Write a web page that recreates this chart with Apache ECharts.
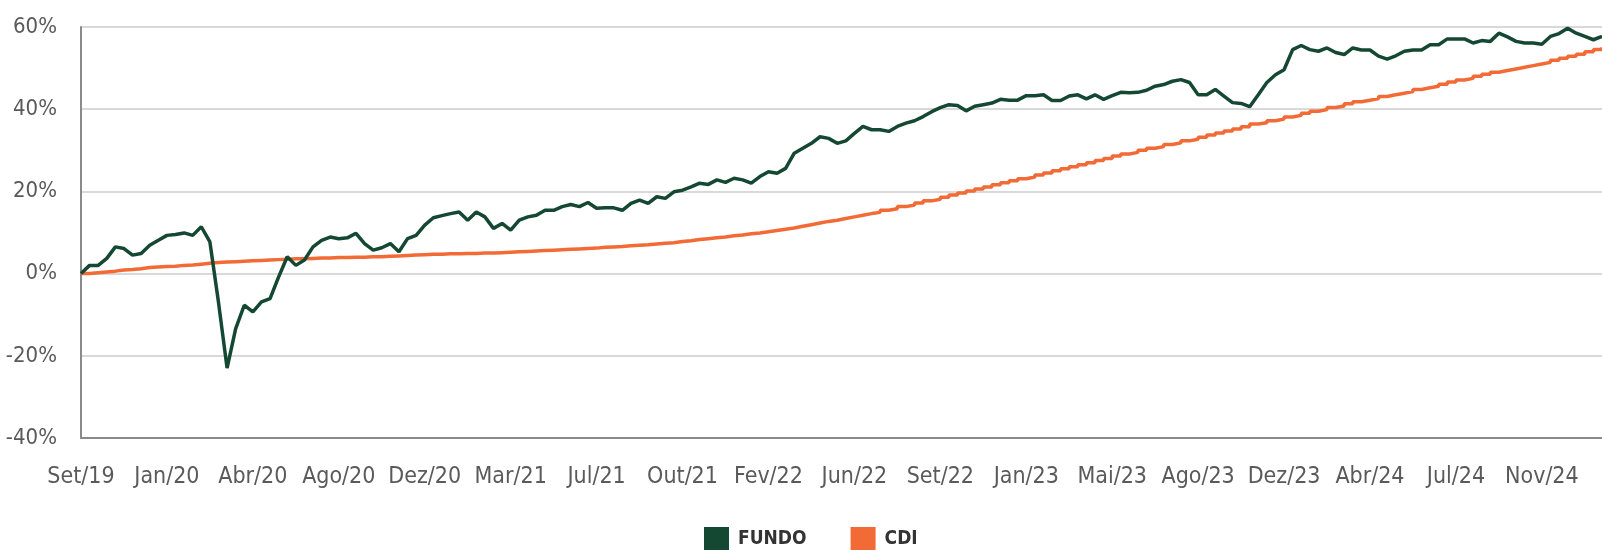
<!DOCTYPE html>
<html>
<head>
<meta charset="utf-8">
<script src="https://cdn.jsdelivr.net/npm/echarts@6/dist/echarts.min.js"></script>
<style>
html,body{margin:0;padding:0;background:#fff;}
#chart{width:1602px;height:550px;}
</style>
</head>
<body>
<div id="chart"></div>
<script>
// Tick labels shown every 10 data points on the category axis
const tickLabels = ["Set/19","Jan/20","Abr/20","Ago/20","Dez/20","Mar/21","Jul/21","Out/21","Fev/22","Jun/22","Set/22","Jan/23","Mai/23","Ago/23","Dez/23","Abr/24","Jul/24","Nov/24"];

// FUNDO cumulative return (%)
const fundo = [
  0, 2.0, 2.0, 3.7, 6.5, 6.1, 4.5, 4.9, 6.9, 8.1,
  9.3, 9.5, 9.9, 9.3, 11.4, 7.7, -7, -23, -13.4, -7.7,
  -9.3, -6.9, -6.1, -0.8, 4.1, 2.0, 3.3, 6.5, 8.1, 8.9,
  8.5, 8.7, 9.8, 7.3, 5.7, 6.3, 7.3, 5.3, 8.5, 9.3,
  11.8, 13.6, 14.1, 14.6, 15.0, 13.0, 15.0, 13.8, 11.0, 12.2,
  10.6, 13.0, 13.8, 14.2, 15.4, 15.4, 16.3, 16.8, 16.3, 17.3,
  15.9, 16.0, 16.0, 15.4, 17.1, 17.9, 17.1, 18.7, 18.3, 19.9,
  20.3, 21.1, 22.0, 21.7, 22.8, 22.2, 23.2, 22.8, 22.0, 23.6,
  24.8, 24.4, 25.6, 29.3, 30.5, 31.7, 33.3, 32.9, 31.7, 32.3,
  34.1, 35.8, 35.0, 35.0, 34.6, 35.8, 36.6, 37.2, 38.2, 39.4,
  40.4, 41.1, 40.9, 39.6, 40.7, 41.1, 41.5, 42.4, 42.2, 42.2,
  43.3, 43.3, 43.5, 42.1, 42.1, 43.2, 43.5, 42.5, 43.5, 42.4,
  43.3, 44.1, 44.0, 44.1, 44.6, 45.6, 46.0, 46.8, 47.2, 46.5,
  43.5, 43.5, 44.8, 43.2, 41.6, 41.4, 40.6, 43.5, 46.5, 48.4,
  49.6, 54.5, 55.5, 54.5, 54.1, 54.9, 53.8, 53.3, 54.9, 54.4,
  54.4, 52.9, 52.2, 53.0, 54.1, 54.4, 54.4, 55.7, 55.7, 57.1,
  57.1, 57.1, 56.1, 56.7, 56.5, 58.5, 57.6, 56.5, 56.1, 56.1,
  55.8, 57.7, 58.4, 59.7, 58.5, 57.7, 56.9, 57.7
];

// CDI cumulative return (%)
const cdi = [
  0, 0.2, 0.4, 0.6, 0.9, 1.0, 1.2, 1.5, 1.6, 1.7,
  1.8, 2.0, 2.1, 2.3, 2.5, 2.7, 2.8, 2.9, 3.0, 3.1,
  3.2, 3.3, 3.4, 3.5, 3.6, 3.6, 3.7, 3.8, 3.8, 3.9,
  3.9, 4.0, 4.0, 4.1, 4.1, 4.2, 4.3, 4.4, 4.5, 4.6,
  4.7, 4.7, 4.8, 4.8, 4.9, 4.9, 5.0, 5.0, 5.1, 5.2,
  5.3, 5.4, 5.5, 5.6, 5.7, 5.8, 5.9, 6.0, 6.1, 6.2,
  6.4, 6.5, 6.6, 6.8, 6.9, 7.0, 7.2, 7.4, 7.5, 7.8,
  8.0, 8.3, 8.5, 8.7, 8.9, 9.2, 9.4, 9.7, 9.9, 10.2,
  10.5, 10.8, 11.1, 11.5, 11.9, 12.3, 12.7, 13.0, 13.4, 13.8,
  14.2, 14.6, 14.9, 15.4, 15.8, 16.3, 16.7, 17.2, 17.7, 18.1,
  18.6, 19.1, 19.6, 20.1, 20.6, 21.1, 21.6, 22.1, 22.6, 23.1,
  23.5, 24.0, 24.5, 25.0, 25.5, 26.0, 26.5, 27.0, 27.5, 28.0,
  28.6, 29.1, 29.5, 30.0, 30.5, 30.9, 31.4, 31.8, 32.3, 32.7,
  33.2, 33.7, 34.2, 34.7, 35.2, 35.7, 36.4, 36.7, 37.2, 37.6,
  38.1, 38.5, 39.0, 39.5, 39.9, 40.4, 40.8, 41.3, 41.8, 42.2,
  42.6, 43.1, 43.5, 43.9, 44.3, 44.8, 45.2, 45.6, 46.1, 46.6,
  47.1, 47.5, 48.0, 48.5, 49.0, 49.4, 49.8, 50.2, 50.6, 51.0,
  51.4, 51.9, 52.4, 52.9, 53.4, 54.0, 54.5, 55.1
];

const yTicks = { min: -40, max: 60, interval: 20 };
const labelEvery = 10;

const categories = fundo.map((_, i) => String(i));
const FONT = "'Liberation Sans Narrow', 'DejaVu Sans Condensed', 'Roboto Condensed', sans-serif";

const chart = echarts.init(document.getElementById('chart'), null, { renderer: 'canvas' });
chart.setOption({
  animation: false,
  backgroundColor: '#ffffff',
  grid: { left: 81, right: 0, top: 27, bottom: 112, containLabel: false },
  legend: {
    left: 699, top: 522,
    itemWidth: 25, itemHeight: 25, itemGap: 44,
    icon: 'rect',
    textStyle: { fontFamily: FONT, fontSize: 19, fontWeight: 'bold', color: '#333', padding: [0, 0, 0, 4] },
    data: ['FUNDO', 'CDI']
  },
  xAxis: {
    type: 'category',
    data: categories,
    boundaryGap: false,
    axisLine: { show: true, onZero: false, lineStyle: { color: '#8a8a8a', width: 2 } },
    axisTick: { show: false },
    axisLabel: {
      interval: labelEvery - 1,
      margin: 28,
      fontFamily: FONT, fontSize: 23, color: '#5a5a5a',
      formatter: (v, idx) => tickLabels[Math.round(idx / labelEvery)] || ''
    },
    splitLine: { show: false }
  },
  yAxis: {
    type: 'value',
    min: yTicks.min, max: yTicks.max, interval: yTicks.interval,
    axisLine: { show: true, lineStyle: { color: '#8a8a8a', width: 2 } },
    axisTick: { show: false },
    axisLabel: { margin: 24, fontFamily: FONT, fontSize: 22, color: '#5a5a5a', formatter: '{value}%' },
    splitLine: { show: true, lineStyle: { color: '#d9d9d9', width: 2 } }
  },
  series: [
    {
      name: 'FUNDO', type: 'line', data: fundo,
      showSymbol: false, symbol: 'none',
      lineStyle: { color: '#154832', width: 3.5 },
      itemStyle: { color: '#154832' },
      z: 3
    },
    {
      name: 'CDI', type: 'line', data: cdi, step: 'end',
      showSymbol: false, symbol: 'none',
      lineStyle: { color: '#f26b36', width: 3.5 },
      itemStyle: { color: '#f26b36' },
      z: 2
    }
  ]
});
</script>
</body>
</html>
